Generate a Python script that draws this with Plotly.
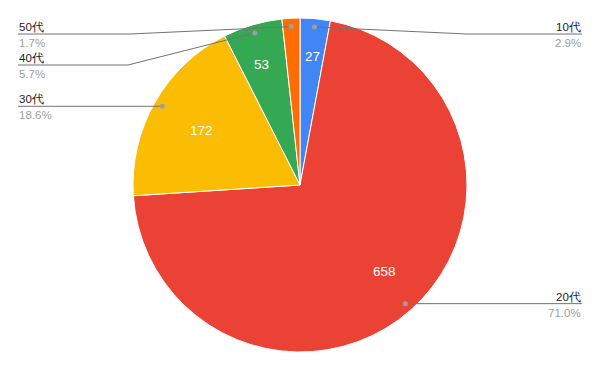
import math
import plotly.graph_objects as go

labels = ["10代", "20代", "30代", "40代", "50代"]
values = [27, 658, 172, 53, 16]
percent_labels = ["2.9%", "71.0%", "18.6%", "5.7%", "1.7%"]
inside_text = ["27", "658", "172", "53", ""]
colors = ["#4285F4", "#EA4335", "#FBBC04", "#34A853", "#FF6D01"]

# layout constants (pixels)
W, H = 600, 371
CX, CY, R = 300, 185, 167
inside_r_frac = [0.83, 0.765, 0.775, 0.81, 0.8]
label_side = ["right", "right", "left", "left", "left"]
label_line_y = [34, None, None, 65, 34]
elbow_x = [467, None, None, 128, 130]
LEFT_X, RIGHT_X = 18, 582
LABEL_SIZE = 11.5

def px(x):
    return x / W

def py(y):
    return 1 - y / H

fig = go.Figure(go.Pie(
    labels=labels, values=values, sort=False, direction="clockwise", rotation=0,
    marker=dict(colors=colors, line=dict(color="white", width=1)),
    textinfo="none", hoverinfo="label+value+percent",
    domain=dict(x=[(CX - R) / W, (CX + R) / W], y=[1 - (CY + R) / H, 1 - (CY - R) / H]),
    showlegend=False,
))

total = sum(values)
shapes = []
annotations = []
cum = 0
for i, v in enumerate(values):
    mid = (cum + v / 2) / total * 2 * math.pi
    cum += v
    s, c = math.sin(mid), math.cos(mid)
    # inside value label
    if inside_text[i]:
        rr = inside_r_frac[i] * R
        annotations.append(dict(x=px(CX + rr * s), y=py(CY - rr * c), xref="paper", yref="paper",
                                text=inside_text[i], showarrow=False,
                                font=dict(color="white", size=13.5, family="Arial")))
    # leader line
    dr = 0.95 * R
    dx, dy = CX + dr * s, CY - dr * c
    ly = label_line_y[i] if label_line_y[i] is not None else dy
    end_x = RIGHT_X if label_side[i] == "right" else LEFT_X
    path = f"M {px(dx)},{py(dy)}"
    if elbow_x[i] is not None:
        path += f" L {px(elbow_x[i])},{py(ly)}"
    path += f" L {px(end_x)},{py(ly)}"
    shapes.append(dict(type="path", xref="paper", yref="paper", path=path,
                       line=dict(color="#737373", width=1)))
    shapes.append(dict(type="circle", xref="paper", yref="paper",
                       x0=px(dx - 2.5), x1=px(dx + 2.5), y0=py(dy + 2.5), y1=py(dy - 2.5),
                       fillcolor="#9e9e9e", line=dict(width=0)))
    anchor = "right" if label_side[i] == "right" else "left"
    annotations.append(dict(x=px(end_x), y=py(ly), xref="paper", yref="paper",
                            text=labels[i], showarrow=False, xanchor=anchor, yanchor="bottom",
                            font=dict(color="#222222", size=LABEL_SIZE, family="Arial"), borderpad=0))
    annotations.append(dict(x=px(end_x), y=py(ly + 2), xref="paper", yref="paper",
                            text=percent_labels[i], showarrow=False, xanchor=anchor, yanchor="top",
                            font=dict(color="#9e9e9e", size=LABEL_SIZE, family="Arial"), borderpad=0))

fig.update_layout(
    width=W, height=H, margin=dict(l=0, r=0, t=0, b=0),
    paper_bgcolor="white", plot_bgcolor="white",
    shapes=shapes, annotations=annotations,
)
fig.write_html("out.html")
